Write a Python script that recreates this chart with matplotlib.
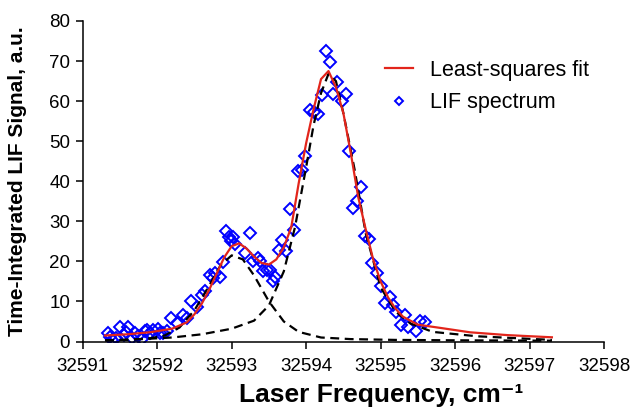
import matplotlib
matplotlib.use("Agg")
import matplotlib.pyplot as plt
from matplotlib.ticker import FixedLocator, FuncFormatter

plt.rcParams["font.family"] = ["Liberation Sans", "DejaVu Sans"]

# measured LIF spectrum
freq = [32591.34, 32591.36, 32591.39, 32591.45, 32591.50, 32591.55, 32591.58, 32591.61,
        32591.66, 32591.70, 32591.74, 32591.79, 32591.83, 32591.86, 32591.90, 32591.95,
        32592.01, 32592.04, 32592.08, 32592.13, 32592.19, 32592.26, 32592.35, 32592.40,
        32592.46, 32592.53, 32592.60, 32592.64, 32592.71, 32592.75, 32592.78, 32592.84,
        32592.89, 32592.93, 32592.96, 32592.99, 32593.02, 32593.05, 32593.18, 32593.25,
        32593.29, 32593.36, 32593.38, 32593.42, 32593.47, 32593.51, 32593.56, 32593.58,
        32593.63, 32593.67, 32593.73, 32593.78, 32593.84, 32593.89, 32593.94, 32593.98,
        32594.05, 32594.10, 32594.16, 32594.21, 32594.27, 32594.32, 32594.36, 32594.42,
        32594.48, 32594.53, 32594.58, 32594.63, 32594.68, 32594.74, 32594.79, 32594.85,
        32594.88, 32594.95, 32595.01, 32595.06, 32595.12, 32595.17, 32595.21, 32595.27,
        32595.33, 32595.37, 32595.48, 32595.53, 32595.59]
signal = [2.0, 1.2, 0.4, 1.0, 3.5, 1.6, 2.4, 3.5,
          0.8, 2.0, 1.4, 0.6, 2.6, 2.9, 2.0, 2.9,
          3.2, 2.2, 2.0, 2.5, 5.8, 4.5, 6.6, 5.8,
          10.0, 8.7, 11.6, 12.5, 16.6, 15.8, 17.0, 16.2,
          19.8, 27.6, 26.0, 25.2, 26.0, 24.4, 22.0, 27.0,
          20.0, 20.8, 20.2, 17.5, 17.9, 17.9, 15.0, 16.2,
          22.9, 25.4, 22.5, 33.0, 27.9, 42.5, 42.9, 46.4,
          57.9, 57.4, 56.9, 61.5, 72.6, 69.8, 61.9, 64.8,
          60.0, 61.9, 47.5, 33.3, 35.0, 38.5, 26.4, 25.5,
          19.6, 17.0, 13.9, 9.7, 11.0, 9.1, 7.4, 4.0,
          6.6, 3.6, 2.5, 5.0, 4.8]

# least-squares fit
fit_x = [32591.3, 32591.6, 32591.9, 32592.2, 32592.4, 32592.5, 32592.6, 32592.7, 32592.8,
         32592.9, 32593.0, 32593.1, 32593.2, 32593.3, 32593.4, 32593.5, 32593.6, 32593.7,
         32593.8, 32593.9, 32594.0, 32594.1, 32594.2, 32594.3, 32594.4, 32594.5, 32594.6,
         32594.7, 32594.8, 32594.9, 32595.0, 32595.1, 32595.2, 32595.3, 32595.5, 32595.8,
         32596.2, 32596.7, 32597.3]
fit_y = [1.5, 1.8, 2.3, 3.2, 4.8, 6.8, 9.5, 13.0, 17.0,
         21.0, 23.8, 24.5, 23.2, 21.2, 19.6, 19.2, 20.5, 23.5,
         28.5, 39.5, 49.5, 58.0, 65.5, 67.5, 63.5, 57.0, 47.0,
         36.0, 28.0, 20.5, 15.0, 11.0, 8.2, 6.2, 4.2, 3.4,
         2.3, 1.6, 1.05]

# individual line components
peak1_x = [32591.3, 32591.6, 32591.9, 32592.1, 32592.3, 32592.5, 32592.7, 32592.85, 32593.0,
           32593.15, 32593.3, 32593.5, 32593.7, 32593.9, 32594.2, 32594.6, 32595.2, 32596.0,
           32597.3]
peak1_y = [0.3, 0.4, 0.8, 1.5, 3.5, 7.8, 14.0, 19.0, 21.5,
           20.5, 16.5, 10.0, 5.0, 2.4, 1.0, 0.6, 0.4, 0.3,
           0.2]
peak2_x = [32591.3, 32591.8, 32592.2, 32592.6, 32593.0, 32593.3, 32593.5, 32593.7, 32593.85,
           32594.0, 32594.1, 32594.2, 32594.3, 32594.4, 32594.5, 32594.65, 32594.8, 32595.0,
           32595.2, 32595.4, 32595.7, 32596.3, 32597.3]
peak2_y = [0.3, 0.6, 1.0, 1.8, 3.2, 5.2, 9.0, 17.5, 28.5,
           43.5, 54.0, 62.0, 66.8, 65.0, 57.0, 43.0, 27.0, 13.5,
           7.5, 4.5, 2.4, 1.3, 0.4]

x_ticks = [32591, 32592, 32593, 32594, 32595, 32596, 32597, 32598]
y_ticks = [0, 10, 20, 30, 40, 50, 60, 70, 80]

fig = plt.figure(figsize=(6.33, 4.13), dpi=100)
ax = fig.add_axes([0.1307, 0.1731, 0.8235, 0.7761])

ax.plot(freq, signal, linestyle="none", marker="D", markersize=6.3, markerfacecolor="none",
        markeredgecolor="#0000FF", markeredgewidth=1.4, label="LIF spectrum", zorder=2)
ax.plot(peak1_x, peak1_y, color="black", lw=1.6, linestyle=(0, (4, 2.5)), zorder=3)
ax.plot(peak2_x, peak2_y, color="black", lw=1.6, linestyle=(0, (4, 2.5)), zorder=3)
ax.plot(fit_x, fit_y, color="#E2251B", lw=1.6, label="Least-squares fit", zorder=4)

ax.set_xlim(32591, 32598)
ax.set_ylim(0, 80)
ax.xaxis.set_major_locator(FixedLocator(x_ticks))
ax.yaxis.set_major_locator(FixedLocator(y_ticks))
ax.xaxis.set_major_formatter(FuncFormatter(lambda v, p: f"{v:.0f}"))
ax.tick_params(direction="out", length=5, width=1.1, labelsize=13.5, pad=4)
ax.tick_params(axis="x", pad=7)
for side in ("top", "right"):
    ax.spines[side].set_visible(False)
for side in ("left", "bottom"):
    ax.spines[side].set_linewidth(1.1)

ax.set_xlabel("Laser Frequency, cm\u207b\u00b9", fontsize=19, fontweight="bold")
ax.xaxis.set_label_coords(0.572, -0.13)
ax.set_ylabel("Time-Integrated LIF Signal, a.u.", fontsize=15, fontweight="bold", labelpad=16)

handles, labels = ax.get_legend_handles_labels()
leg = ax.legend(handles[::-1], labels[::-1], loc="upper left", bbox_to_anchor=(0.542, 0.94),
                frameon=False, fontsize=15.5, handlelength=1.3, markerscale=0.6,
                labelspacing=0.55, handletextpad=0.8)

fig.savefig("out.png", dpi=100)
